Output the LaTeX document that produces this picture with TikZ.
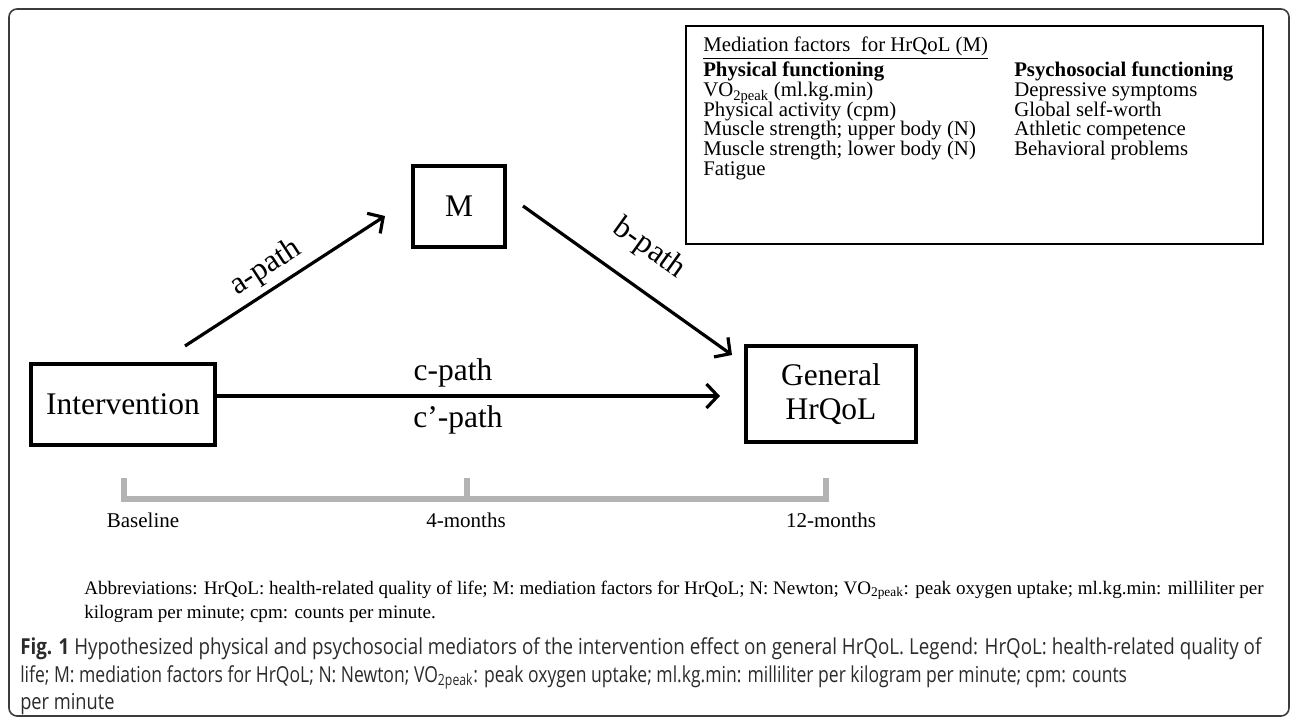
\documentclass[tikz,border=0pt]{standalone}
\usepackage{fontspec}
\setmainfont{Liberation Serif}
\newfontfamily\capfont[FakeStretch=0.83]{Open Sans}
\usetikzlibrary{arrows.meta}
\definecolor{framecol}{HTML}{3C3C3C}
\definecolor{tlgray}{HTML}{B3B3B3}
\definecolor{capcol}{HTML}{2B2B2B}
\begin{document}
\begin{tikzpicture}[x=0.75pt,y=-0.75pt,
  box/.style={draw=black, line width=2.3pt, inner sep=0pt, font=\fontsize{23.6}{26}\selectfont, align=center},
  arr/.style={line width=2.4pt, -{Straight Barb[length=8.5pt,width=18pt]}},
  lbl/.style={font=\fontsize{23.6}{28}\selectfont, inner sep=0pt},
  legtxt/.style={anchor=base west, inner sep=0pt, font=\fontsize{15.6}{18}\selectfont},
  tltxt/.style={anchor=base, inner sep=0pt, font=\fontsize{15.75}{18}\selectfont},
  abbtxt/.style={anchor=base west, inner sep=0pt, font=\fontsize{14.3}{16}\selectfont},
  captxt/.style={anchor=base west, inner sep=0pt, text=capcol, font=\capfont\fontsize{16.5}{19}\selectfont},
  tlline/.style={draw=tlgray, line width=4.5pt, line join=miter, line cap=rect},
]
\useasboundingbox (0,0) rectangle (1296,724);
\draw[framecol, line width=1.2pt, rounded corners=6pt] (9,9) rectangle (1289,716);

% legend box
\draw[black, line width=1pt] (686,26) rectangle (1263,244);
\node[legtxt] (lt) at (703,52) {\underline{Mediation factors~ for HrQoL (M)}};
\node[legtxt] (p0) at (703,77) {\textbf{Physical functioning}};
\node[legtxt] (p1) at (703,97) {VO\textsubscript{2peak} (ml.kg.min)};
\node[legtxt] (p2) at (703,116.5) {Physical activity (cpm)};
\node[legtxt] (p3) at (703,136) {Muscle strength; upper body (N)};
\node[legtxt] (p4) at (703,155.5) {Muscle strength; lower body (N)};
\node[legtxt] (p5) at (703,175) {Fatigue};
\node[legtxt] (q0) at (1014,77) {\textbf{Psychosocial functioning}};
\node[legtxt] (q1) at (1014,97) {Depressive symptoms};
\node[legtxt] (q2) at (1014,116.5) {Global self-worth};
\node[legtxt] (q3) at (1014,136) {Athletic competence};
\node[legtxt] (q4) at (1014,155.5) {Behavioral problems};

% boxes
\node[box, minimum width=138pt, minimum height=60.75pt] (int) at (123,404.5) {Intervention};
\node[box, minimum width=69pt, minimum height=60.75pt] (m) at (459,206.5) {M};
\node[box, minimum width=127.5pt, minimum height=72pt] (gen) at (831,394) {General\\HrQoL};

% arrows
\coordinate (cs) at (int.east |- 0,396);
\coordinate (ce) at (720,396);
\draw[arr] (cs) -- (ce);
\coordinate (as) at (185,346);
\coordinate (ae) at (385,216);
\draw[arr] (as) -- (ae);
\coordinate (bs) at (523,206);
\coordinate (be) at (732,355);
\draw[arr] (bs) -- (be);

\node[lbl] (cl) at (453,373) {c-path};
\node[lbl] (cpl) at (458,420) {c’-path};
\node[lbl, rotate=33] (al) at (266,268) {a-path};
\node[lbl, rotate=-35.7] (bl) at (649,249) {b-path};

% timeline
\coordinate (t0) at (124,481);
\coordinate (t1) at (467,481);
\coordinate (t2) at (826,481);
\coordinate (b0) at (124,499);
\coordinate (b1) at (467,499);
\coordinate (b2) at (826,499);
\draw[tlline] (t0) -- (b0) -- (b2) -- (t2);
\draw[tlline] (t1) -- (b1);
\node[tltxt] (bl0) at (143,527) {Baseline};
\node[tltxt] (bl1) at (466,527) {4-months};
\node[tltxt] (bl2) at (831,527) {12-months};

% abbreviations
\node[abbtxt] (ab1) at (84,594) {Abbreviations: HrQoL: health-related quality of life; M: mediation factors for HrQoL; N: Newton; VO\textsubscript{2peak}: peak oxygen uptake; ml.kg.min: milliliter per};
\node[abbtxt] (ab2) at (84,618) {kilogram per minute; cpm: counts per minute.};

% caption
\node[captxt] (c1) at (20,654) {\scalebox{1.028}[1]{\textbf{Fig. 1} Hypothesized physical and psychosocial mediators of the intervention effect on general HrQoL. Legend: HrQoL: health-related quality of}};
\node[captxt] (c2) at (20,682) {\scalebox{0.96}[1]{life; M: mediation factors for HrQoL; N: Newton; VO\textsubscript{2peak}: peak oxygen uptake; ml.kg.min: milliliter per kilogram per minute; cpm: counts}};
\node[captxt] (c3) at (20,709) {per minute};
\end{tikzpicture}
\end{document}
